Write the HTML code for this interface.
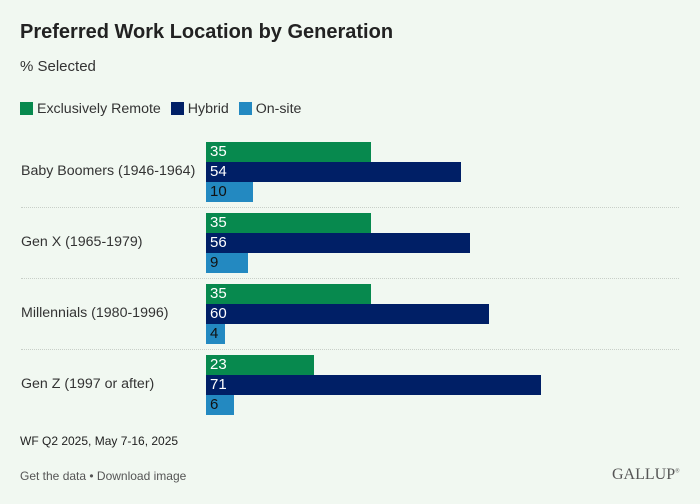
<!DOCTYPE html>
<html><head><style>
body{margin:0;width:700px;height:504px;background:#f1f8f1;font-family:"Liberation Sans",sans-serif;position:relative;overflow:hidden;color:#222}
.a{position:absolute;white-space:nowrap}
.bar{position:absolute;left:206px;height:20px;font-size:15px;line-height:20px;padding-left:4px;box-sizing:border-box;color:#fff}
.g{background:#07894e}.n{background:#001f66}.l{background:#2389c1;color:#111}
.lab{position:absolute;left:21px;font-size:14.2px;color:#333}
.sep{position:absolute;left:21px;width:658px;border-top:1px dotted #c8cfc8}
.sw{display:inline-block;width:13px;height:13px;vertical-align:-2px;margin-right:4px}
</style></head><body>
<div class="a" style="left:20px;top:21px;font-size:20px;font-weight:bold;color:#222">Preferred Work Location by Generation</div>
<div class="a" style="left:20px;top:58px;font-size:15px;color:#333">% Selected</div>
<div class="a" style="left:20px;top:101px;font-size:14.2px;color:#333"><span class="sw" style="background:#07894e"></span>Exclusively Remote <span class="sw" style="background:#001f66;margin-left:6px"></span>Hybrid <span class="sw" style="background:#2389c1;margin-left:6px"></span>On-site</div>

<div class="lab" style="top:163px">Baby Boomers (1946-1964)</div>
<div class="bar g" style="top:142px;width:165px">35</div>
<div class="bar n" style="top:162px;width:255px">54</div>
<div class="bar l" style="top:182px;width:47px">10</div>
<div class="sep" style="top:207px"></div>

<div class="lab" style="top:234px">Gen X (1965-1979)</div>
<div class="bar g" style="top:213px;width:165px">35</div>
<div class="bar n" style="top:233px;width:264px">56</div>
<div class="bar l" style="top:253px;width:42px">9</div>
<div class="sep" style="top:278px"></div>

<div class="lab" style="top:305px">Millennials (1980-1996)</div>
<div class="bar g" style="top:284px;width:165px">35</div>
<div class="bar n" style="top:304px;width:283px">60</div>
<div class="bar l" style="top:324px;width:19px">4</div>
<div class="sep" style="top:349px"></div>

<div class="lab" style="top:376px">Gen Z (1997 or after)</div>
<div class="bar g" style="top:355px;width:108px">23</div>
<div class="bar n" style="top:375px;width:335px">71</div>
<div class="bar l" style="top:395px;width:28px">6</div>

<div class="a" style="left:20px;top:434px;font-size:12px;color:#222">WF Q2 2025, May 7-16, 2025</div>
<div class="a" style="left:20px;top:469px;font-size:12px;color:#555">Get the data • Download image</div>
<div class="a" style="left:612px;top:466px;font-size:16px;font-family:'Liberation Serif',serif;color:#555">GALLUP<sup style="font-size:6px">®</sup></div>
</body></html>
